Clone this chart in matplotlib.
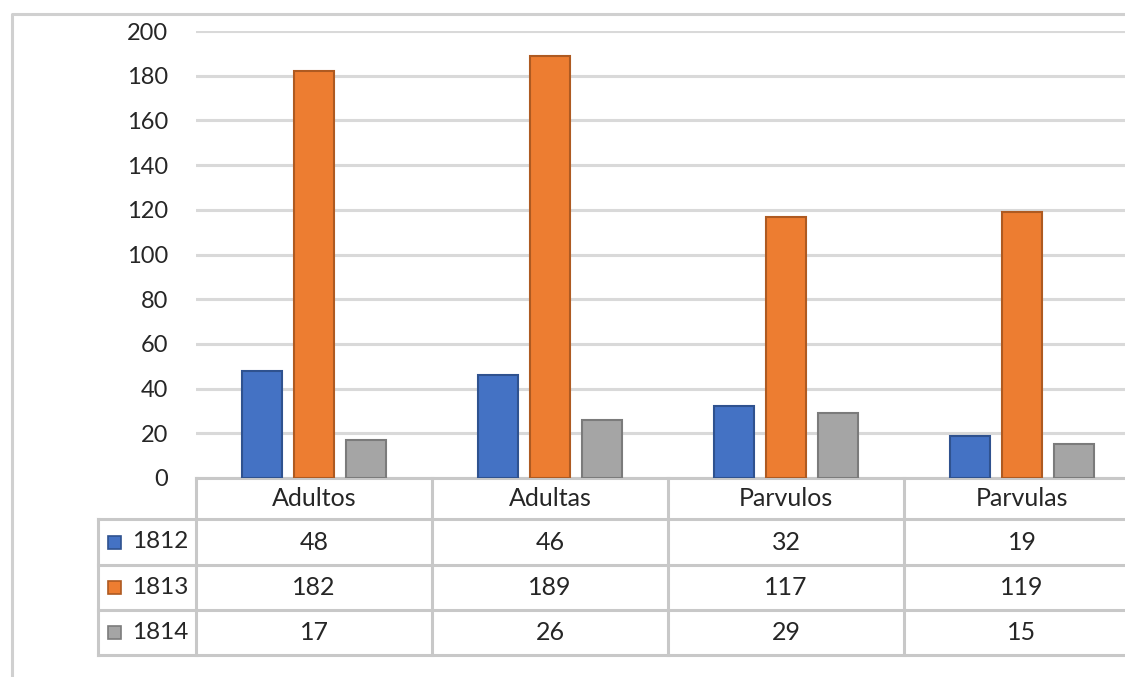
import numpy as np
import matplotlib
matplotlib.use("Agg")
import matplotlib.pyplot as plt
from matplotlib.transforms import blended_transform_factory
from matplotlib.patches import Rectangle

categories = ["Adultos", "Adultas", "Parvulos", "Parvulas"]
series_names = ["1812", "1813", "1814"]
v1812 = [48, 46, 32, 19]
v1813 = [182, 189, 117, 119]
v1814 = [17, 26, 29, 15]
yticks = [0, 20, 40, 60, 80, 100, 120, 140, 160, 180, 200]

fills = ["#4472C4", "#ED7D31", "#A5A5A5"]
edges = ["#2F528F", "#AE5A21", "#7B7B7B"]
grid_c = "#D9D9D9"
line_c = "#C8C8C8"

plt.rcParams["font.family"] = ["Lato", "DejaVu Sans"]
W, H = 1125, 677
fig = plt.figure(figsize=(W / 100, H / 100), dpi=100)

# frame of the chart area
bg = fig.add_axes([0, 0, 1, 1])
bg.set_xlim(0, W)
bg.set_ylim(H, 0)
bg.axis("off")
bg.plot([12, 12, W + 5], [H + 5, 14, 14], color="#D0D0D0", lw=2.2)

# plot area: x 196 -> 1140 px, y 31 -> 478 px
left, right, top, bottom = 196, 1140, 31, 478
ax = fig.add_axes([left / W, (H - bottom) / H, (right - left) / W, (bottom - top) / H])
ax.set_xlim(-0.5, len(categories) - 0.5)
ax.set_ylim(0, 200)
ax.set_facecolor("none")
for s in ax.spines.values():
    s.set_visible(False)
ax.set_yticks(yticks)
ax.yaxis.grid(True, color=grid_c, lw=2.2)
ax.set_axisbelow(True)
ax.tick_params(axis="y", length=0, pad=20, labelsize=17, labelcolor="#262626")
ax.set_xticks([])

x = np.arange(len(categories))
step = 0.22
bw = 0.17
for i, vals in enumerate([v1812, v1813, v1814]):
    ax.bar(x + (i - 1) * step, vals, bw, color=fills[i], edgecolor=edges[i], lw=1.5, zorder=3)

# data table under the plot
tr = blended_transform_factory(ax.transData, ax.transAxes)
ph = bottom - top
row_edges = [bottom, 519, 565, 610, 655]
ry = [(bottom - r) / ph for r in row_edges]
xb = np.arange(len(categories) + 1) - 0.5
lab_left = (98 - left) / (right - left) * len(categories) - 0.5
kw = dict(color=line_c, lw=2.2, clip_on=False, transform=tr, solid_capstyle="projecting")

# horizontal lines
ax.plot([xb[0], xb[-1] + 0.2], [ry[0], ry[0]], **kw)
for r in ry[1:]:
    ax.plot([lab_left, xb[-1] + 0.2], [r, r], **kw)
# vertical lines
for xv in xb:
    ax.plot([xv, xv], [ry[0], ry[-1]], **kw)
ax.plot([lab_left, lab_left], [ry[1], ry[-1]], **kw)

tk = dict(transform=tr, ha="center", va="center", fontsize=18, color="#262626", clip_on=False)
for j, c in enumerate(categories):
    ax.text(j, (ry[0] + ry[1]) / 2, c, **tk)
for i, vals in enumerate([v1812, v1813, v1814]):
    yc = (ry[i + 1] + ry[i + 2]) / 2
    for j, v in enumerate(vals):
        ax.text(j, yc, str(v), **tk)

# legend keys in the table
for i, name in enumerate(series_names):
    yc_px = (row_edges[i + 1] + row_edges[i + 2]) / 2
    bg.add_patch(Rectangle((108, yc_px - 6.5), 13, 13, facecolor=fills[i],
                           edgecolor=edges[i], lw=1.2, zorder=5))
    bg.text(132, yc_px, name, ha="left", va="center", fontsize=17.5, color="#262626", zorder=5)

fig.savefig("out.png", dpi=100)
